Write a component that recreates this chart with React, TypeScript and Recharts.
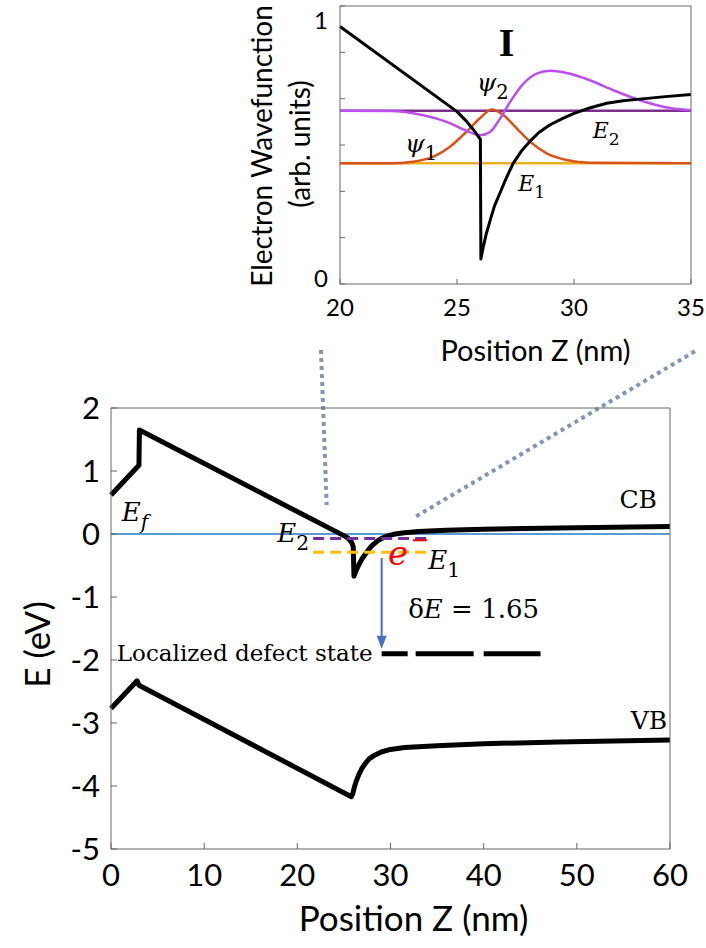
import React from 'react'
import { LineChart, Line, XAxis, YAxis, ReferenceLine, ReferenceDot } from 'recharts'

const SANS = 'Lato, "Open Sans", sans-serif'
const SERIF = '"DejaVu Serif", serif'
const FRAME = '#666666'

// ---- inset: electron wavefunctions near the well ----
const insetZTicks = [20, 25, 30, 35]
const insetVTicks = [0, 0.1667, 0.3333, 0.5, 0.6667, 0.8333, 1]

const insetBand = [
  { z: 20, v: 0.926 }, { z: 25, v: 0.62 }, { z: 25.4, v: 0.586 }, { z: 25.7, v: 0.555 },
  { z: 25.9, v: 0.532 }, { z: 26.0, v: 0.52 }, { z: 26.02, v: 0.09 }, { z: 26.08, v: 0.115 },
  { z: 26.14, v: 0.14 }, { z: 26.25, v: 0.18 }, { z: 26.42, v: 0.23 }, { z: 26.6, v: 0.28 },
  { z: 26.85, v: 0.33 }, { z: 27.1, v: 0.38 }, { z: 27.4, v: 0.434 }, { z: 27.75, v: 0.478 },
  { z: 28.1, v: 0.512 }, { z: 28.5, v: 0.545 }, { z: 28.96, v: 0.572 }, { z: 29.5, v: 0.595 },
  { z: 30, v: 0.614 }, { z: 30.7, v: 0.634 }, { z: 31.4, v: 0.65 }, { z: 32.1, v: 0.659 },
  { z: 32.8, v: 0.665 }, { z: 33.9, v: 0.674 }, { z: 35, v: 0.682 },
]
const insetE1 = [{ z: 20, v: 0.434 }, { z: 35, v: 0.434 }]
const insetE2 = [{ z: 20, v: 0.623 }, { z: 35, v: 0.623 }]
const psi1 = [
  { z: 20, v: 0.434 }, { z: 22.14, v: 0.434 }, { z: 23.13, v: 0.44 }, { z: 23.99, v: 0.458 },
  { z: 24.7, v: 0.494 }, { z: 25.41, v: 0.548 }, { z: 25.98, v: 0.596 }, { z: 26.48, v: 0.628 },
  { z: 26.98, v: 0.608 }, { z: 27.55, v: 0.56 }, { z: 28.12, v: 0.512 }, { z: 28.83, v: 0.47 },
  { z: 29.69, v: 0.446 }, { z: 30.68, v: 0.436 }, { z: 35, v: 0.434 },
]
const psi2 = [
  { z: 20, v: 0.623 }, { z: 22.14, v: 0.622 }, { z: 23.56, v: 0.607 }, { z: 24.56, v: 0.583 },
  { z: 25.41, v: 0.551 }, { z: 25.98, v: 0.535 }, { z: 26.41, v: 0.547 }, { z: 26.84, v: 0.595 },
  { z: 27.27, v: 0.655 }, { z: 27.84, v: 0.721 }, { z: 28.4, v: 0.757 }, { z: 28.97, v: 0.767 },
  { z: 29.69, v: 0.759 }, { z: 30.68, v: 0.733 }, { z: 31.68, v: 0.697 }, { z: 32.82, v: 0.661 },
  { z: 33.96, v: 0.635 }, { z: 35, v: 0.625 },
]

// ---- main: band diagram ----
const zTicks = [0, 10, 20, 30, 40, 50, 60]
const eTicks = [-5, -4, -3, -2, -1, 0, 1, 2]

const cb = [
  { z: 0, E: 0.62 }, { z: 3.0, E: 1.09 }, { z: 3.05, E: 1.65 }, { z: 25.3, E: -0.05 },
  { z: 25.6, E: -0.09 }, { z: 25.85, E: -0.14 }, { z: 26.0, E: -0.2 }, { z: 26.08, E: -0.67 },
  { z: 26.2, E: -0.62 }, { z: 26.4, E: -0.55 }, { z: 26.7, E: -0.46 }, { z: 27.0, E: -0.38 },
  { z: 27.4, E: -0.3 }, { z: 27.8, E: -0.22 }, { z: 28.2, E: -0.16 }, { z: 28.7, E: -0.1 },
  { z: 29.2, E: -0.06 }, { z: 29.8, E: -0.025 }, { z: 30.5, E: 0 }, { z: 31.5, E: 0.02 },
  { z: 33, E: 0.04 }, { z: 36, E: 0.06 }, { z: 40, E: 0.075 }, { z: 50, E: 0.1 }, { z: 60, E: 0.12 },
]
const vb = [
  { z: 0, E: -2.77 }, { z: 2.8, E: -2.33 }, { z: 3.0, E: -2.4 }, { z: 25.8, E: -4.17 },
  { z: 25.95, E: -4.12 }, { z: 26.1, E: -4.03 }, { z: 26.3, E: -3.93 }, { z: 26.6, E: -3.82 },
  { z: 26.9, E: -3.73 }, { z: 27.3, E: -3.64 }, { z: 27.7, E: -3.57 }, { z: 28.3, E: -3.51 },
  { z: 29.0, E: -3.46 }, { z: 30, E: -3.42 }, { z: 31.5, E: -3.39 }, { z: 35, E: -3.36 },
  { z: 40, E: -3.33 }, { z: 48, E: -3.3 }, { z: 60, E: -3.27 },
]
const fermi = [{ z: 0, E: 0 }, { z: 60, E: 0 }]
const levelE2 = [{ z: 21.7, E: -0.07 }, { z: 33.9, E: -0.07 }]
const levelE1 = [{ z: 21.7, E: -0.29 }, { z: 33.9, E: -0.29 }]
const electronMark = [{ z: 32.4, E: -0.1 }, { z: 33.9, E: -0.1 }]
const defectLevel = [{ z: 29.05, E: -1.9 }, { z: 46.1, E: -1.9 }]

// text placed at a data point; baseline shifted so caps are centred on it
function Note({ viewBox, main, sub, size, anchor = 'start', color = '#000', italic = true, family = SERIF, weight = 'normal' }: any) {
  const x = viewBox?.x ?? 0
  const y = (viewBox?.y ?? 0) + size * 0.36
  return (
    <text x={x} y={y} fontSize={size} fontFamily={family} fontWeight={weight} fill={color} textAnchor={anchor}>
      <tspan fontStyle={italic ? 'italic' : 'normal'}>{main}</tspan>
      {sub && <tspan fontSize={size * 0.78} dy={size * 0.32} fontStyle={sub === 'f' ? 'italic' : 'normal'}>{sub}</tspan>}
    </text>
  )
}

function DeltaE({ viewBox }: any) {
  const size = 26
  return (
    <text x={viewBox.x} y={viewBox.y + size * 0.36} fontSize={size} fontFamily={SERIF} fill="#000">
      δ<tspan fontStyle="italic">E</tspan> = 1.65
    </text>
  )
}

const Arrow = (p: any) => {
  const x = p.x1
  const top = Math.min(p.y1, p.y2)
  const bot = Math.max(p.y1, p.y2)
  return (
    <g>
      <line x1={x} y1={top} x2={x} y2={bot - 10} stroke="#4472C4" strokeWidth={2} />
      <polygon points={`${x - 5},${bot - 13} ${x + 5},${bot - 13} ${x},${bot}`} fill="#4472C4" />
    </g>
  )
}

const InsetYTick = ({ x, y, payload }: any) => {
  const v = payload.value
  if (v !== 0 && v !== 1) return <g />
  return (
    <text x={x} y={y + (v === 1 ? 12 : -5)} dy="0.35em" textAnchor="end" fontSize={24} fontFamily={SANS} fill="#000">
      {v}
    </text>
  )
}

// Overlay chart with top/right axes only: closes the box with inward ticks.
function BoxOverlay({ width, height, margin, xDomain, yDomain, xTicks, yTicks, data, dataKey, tick }: any) {
  const axis = { stroke: FRAME, strokeWidth: 1 }
  return (
    <LineChart width={width} height={height} margin={margin}>
      <XAxis orientation="top" type="number" dataKey="z" domain={xDomain} ticks={xTicks} height={10}
        tickSize={-tick} tick={false} axisLine={axis} tickLine={axis} />
      <YAxis orientation="right" type="number" domain={yDomain} ticks={yTicks} width={10}
        tickSize={-tick} tick={false} axisLine={axis} tickLine={axis} />
      <Line data={data} dataKey={dataKey} stroke="none" dot={false} isAnimationActive={false} />
    </LineChart>
  )
}

function InsetChart() {
  const axis = { stroke: FRAME, strokeWidth: 1 }
  return (
    <LineChart width={706} height={370} margin={{ top: 6, right: 15, left: 0, bottom: 0 }}>
      <XAxis type="number" dataKey="z" domain={[20, 35]} ticks={insetZTicks} height={86}
        tickSize={-5} tickMargin={20} axisLine={axis} tickLine={axis}
        tick={{ fontSize: 24, fontFamily: SANS, fill: '#000' }}
        label={{
          content: ({ viewBox }: any) => (
            <text x={viewBox.x + viewBox.width / 2 + 20} y={viewBox.y + 77} textAnchor="middle" fontSize={29} fontFamily={SANS} fill="#000">
              Position Z (nm)
            </text>
          ),
        }} />
      <YAxis type="number" domain={[0, 1]} ticks={insetVTicks} width={340}
        tickSize={-5} tickMargin={17} axisLine={axis} tickLine={axis} tick={<InsetYTick />}
        label={{
          content: ({ viewBox }: any) => {
            const cy = viewBox.y + 140
            return (
              <g fontSize={28} fontFamily={SANS} fill="#000" textAnchor="middle">
                <text x={272} y={cy} transform={`rotate(-90 272 ${cy})`}>Electron Wavefunction</text>
                <text x={310} y={cy - 2} transform={`rotate(-90 310 ${cy - 2})`}>(arb. units)</text>
              </g>
            )
          },
        }} />

      <Line data={insetE2} dataKey="v" stroke="#7E2F8E" strokeWidth={2.5} dot={false} isAnimationActive={false} />
      <Line data={insetE1} dataKey="v" stroke="#EDB120" strokeWidth={2.5} dot={false} isAnimationActive={false} />
      <Line data={psi1} dataKey="v" type="monotone" stroke="#D95319" strokeWidth={2.5} dot={false} isAnimationActive={false} />
      <Line data={psi2} dataKey="v" type="monotone" stroke="#BD4FF0" strokeWidth={2.5} dot={false} isAnimationActive={false} />
      <Line data={insetBand} dataKey="v" stroke="#000" strokeWidth={3} strokeLinejoin="round" dot={false} isAnimationActive={false} />

      <ReferenceDot x={27.12} y={0.872} r={0} fill="none" stroke="none"
        label={<Note main="I" size={40} anchor="middle" italic={false} weight="bold" family='"Liberation Serif", serif' />} />
      <ReferenceDot x={25.84} y={0.728} r={0} fill="none" stroke="none" label={<Note main="ψ" sub="2" size={25} />} />
      <ReferenceDot x={22.78} y={0.506} r={0} fill="none" stroke="none" label={<Note main="ψ" sub="1" size={25} />} />
      <ReferenceDot x={30.8} y={0.554} r={0} fill="none" stroke="none" label={<Note main="E" sub="2" size={22} />} />
      <ReferenceDot x={27.62} y={0.364} r={0} fill="none" stroke="none" label={<Note main="E" sub="1" size={22} />} />
    </LineChart>
  )
}

function MainChart() {
  const axis = { stroke: FRAME, strokeWidth: 1 }
  return (
    <LineChart width={706} height={618} margin={{ top: 78, right: 36, left: 0, bottom: 0 }}>
      <XAxis type="number" dataKey="z" domain={[0, 60]} ticks={zTicks} height={99}
        tickSize={-6} tickMargin={21} axisLine={axis} tickLine={axis}
        tick={{ fontSize: 31, fontFamily: SANS, fill: '#000' }}
        label={{
          content: ({ viewBox }: any) => (
            <text x={viewBox.x + viewBox.width / 2 + 23} y={viewBox.y + 82} textAnchor="middle" fontSize={35} fontFamily={SANS} fill="#000">
              Position Z (nm)
            </text>
          ),
        }} />
      <YAxis type="number" domain={[-5, 2]} ticks={eTicks} width={111}
        tickSize={-6} tickMargin={17} axisLine={axis} tickLine={axis}
        tick={{ fontSize: 31, fontFamily: SANS, fill: '#000' }}
        label={{
          content: ({ viewBox }: any) => {
            const cy = viewBox.y + viewBox.height / 2 + 16
            return (
              <text x={50} y={cy} transform={`rotate(-90 50 ${cy})`} textAnchor="middle" fontSize={35} fontFamily={SANS} fill="#000">
                E (eV)
              </text>
            )
          },
        }} />

      {/* zoom guides towards the inset */}
      <ReferenceLine segment={[{ x: 22.54, y: 2.92 }, { x: 23.15, y: 0.46 }]} stroke="#8497B0" strokeWidth={4}
        strokeDasharray="4 4" ifOverflow="visible" />
      <ReferenceLine segment={[{ x: 62.68, y: 2.9 }, { x: 32.41, y: 0.25 }]} stroke="#8497B0" strokeWidth={4}
        strokeDasharray="4 4" ifOverflow="visible" />

      <Line data={fermi} dataKey="E" stroke="#5B9BD5" strokeWidth={2} dot={false} isAnimationActive={false} />
      <Line data={cb} dataKey="E" stroke="#000" strokeWidth={5} strokeLinejoin="round" dot={false} isAnimationActive={false} />
      <Line data={vb} dataKey="E" stroke="#000" strokeWidth={5} strokeLinejoin="round" dot={false} isAnimationActive={false} />
      <Line data={levelE2} dataKey="E" stroke="#7030A0" strokeWidth={3} strokeDasharray="11 6" dot={false} isAnimationActive={false} />
      <Line data={levelE1} dataKey="E" stroke="#FFC000" strokeWidth={3} strokeDasharray="11 6" dot={false} isAnimationActive={false} />
      <Line data={electronMark} dataKey="E" stroke="#FF0000" strokeWidth={2} dot={false} isAnimationActive={false} />
      <Line data={defectLevel} dataKey="E" stroke="#000" strokeWidth={5} strokeDasharray="26 8 58 10 57" dot={false} isAnimationActive={false} />

      <ReferenceLine segment={[{ x: 29.05, y: -0.38 }, { x: 29.05, y: -1.82 }]} shape={Arrow} ifOverflow="visible" />

      <ReferenceDot x={1.15} y={0.355} r={0} fill="none" stroke="none" label={<Note main="E" sub="f" size={26} />} />
      <ReferenceDot x={17.85} y={0.02} r={0} fill="none" stroke="none" label={<Note main="E" sub="2" size={26} />} />
      <ReferenceDot x={34.06} y={-0.4} r={0} fill="none" stroke="none" label={<Note main="E" sub="1" size={26} />} />
      <ReferenceDot x={30.8} y={-0.3} r={0} fill="none" stroke="none" label={<Note main="e" size={34} anchor="middle" color="#FF0000" />} />
      <ReferenceDot x={58.6} y={0.56} r={0} fill="none" stroke="none" label={<Note main="CB" size={25} anchor="end" italic={false} />} />
      <ReferenceDot x={59.7} y={-2.95} r={0} fill="none" stroke="none" label={<Note main="VB" size={25} anchor="end" italic={false} />} />
      <ReferenceDot x={31.9} y={-1.18} r={0} fill="none" stroke="none" label={<DeltaE />} />
      <ReferenceDot x={28.07} y={-1.88} r={0} fill="none" stroke="none"
        label={<Note main="Localized defect state" size={23} anchor="end" italic={false} />} />
    </LineChart>
  )
}

export default function App() {
  const layer = (top: number): React.CSSProperties => ({ position: 'absolute', left: 0, top })
  return (
    <div style={{ position: 'absolute', left: 0, top: 0, width: 706, height: 948, background: '#fff', overflow: 'hidden' }}>
      <div style={layer(0)}>
        <InsetChart />
      </div>
      {/* overlay starts 4px higher so its 10px top axis lands on the inset's plot top (y=6) */}
      <div style={layer(-4)}>
        <BoxOverlay width={706} height={370} margin={{ top: 0, right: 5, left: 340, bottom: 82 }}
          xDomain={[20, 35]} yDomain={[0, 1]} xTicks={insetZTicks} yTicks={insetVTicks}
          data={insetE1} dataKey="v" tick={5} />
      </div>
      <div style={layer(330)}>
        <MainChart />
      </div>
      <div style={layer(330)}>
        <BoxOverlay width={706} height={618} margin={{ top: 68, right: 26, left: 111, bottom: 99 }}
          xDomain={[0, 60]} yDomain={[-5, 2]} xTicks={zTicks} yTicks={eTicks}
          data={fermi} dataKey="E" tick={6} />
      </div>
    </div>
  )
}
